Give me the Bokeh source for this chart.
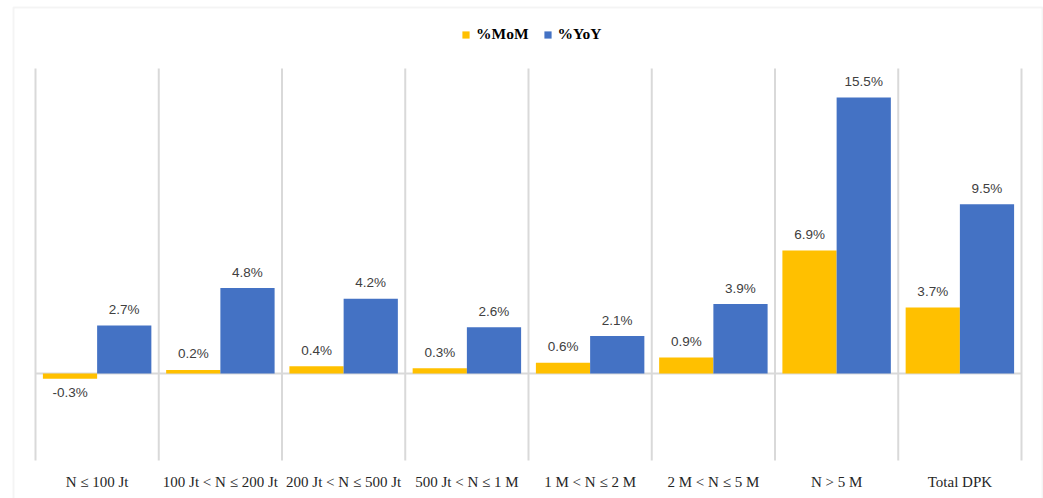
from bokeh.plotting import figure
from bokeh.models import (ColumnDataSource, Range1d, FixedTicker, Legend, LegendItem, BoxAnnotation)
from bokeh.core.properties import value
from bokeh.embed import file_html
from bokeh.resources import INLINE

categories = ["N \u2264 100 Jt", "100 Jt < N \u2264 200 Jt", "200 Jt < N \u2264 500 Jt",
              "500 Jt < N \u2264 1 M", "1 M < N \u2264 2 M", "2 M < N \u2264 5 M",
              "N > 5 M", "Total DPK"]
mom = [-0.3, 0.2, 0.4, 0.3, 0.6, 0.9, 6.9, 3.7]
yoy = [2.7, 4.8, 4.2, 2.6, 2.1, 3.9, 15.5, 9.5]
series_names = ["%MoM", "%YoY"]
series_colors = ["#FFC000", "#4472C4"]

n = len(categories)
xs = [i + 0.5 for i in range(n)]

bw = 0.44
x_mom = [x - bw / 2 for x in xs]
x_yoy = [x + bw / 2 for x in xs]
src = ColumnDataSource(dict(x=xs, xm=x_mom, xy=x_yoy, mom=mom, yoy=yoy, cat=categories))

# plot area geometry (value units)
Y_LO, Y_HI = -7.019, 20.943
GRID_LO, GRID_HI = -4.885, 17.12
X_LO, X_HI = -0.284, n + 0.1785

p = figure(width=1043, height=498, output_backend="svg", toolbar_location=None,
           x_range=Range1d(X_LO, X_HI), y_range=Range1d(Y_LO, Y_HI),
           min_border_left=0, min_border_right=0, min_border_top=0, min_border_bottom=0)
p.outline_line_color = None
p.background_fill_color = "white"
p.border_fill_color = "white"

# outer chart border
p.add_layout(BoxAnnotation(left=13, right=1042, top=7, bottom=540,
                           left_units="canvas", right_units="canvas",
                           top_units="canvas", bottom_units="canvas",
                           fill_color=None, fill_alpha=0, line_color="#D9D9D9", line_width=2,
                           level="underlay"))

# grid: vertical separators between categories, zero line
p.grid.visible = False
bounds = list(range(n + 1))
p.segment(x0=bounds, x1=bounds, y0=[GRID_LO] * len(bounds), y1=[GRID_HI] * len(bounds),
          line_color="#D9D9D9", line_width=2)
p.segment(x0=[0], x1=[n], y0=[0], y1=[0], line_color="#D9D9D9", line_width=2)

r1 = p.vbar(x="xm", top="mom", width=bw, source=src,
            fill_color=series_colors[0], line_color=None)
r2 = p.vbar(x="xy", top="yoy", width=bw, source=src,
            fill_color=series_colors[1], line_color=None)

# data labels
def add_labels(xpos, vals):
    pos = [i for i, v in enumerate(vals) if v >= 0]
    neg = [i for i, v in enumerate(vals) if v < 0]
    for idx, yo in ((pos, -16), (neg, 14)):
        if not idx:
            continue
        s = ColumnDataSource(dict(x=[xpos[i] for i in idx], y=[vals[i] for i in idx],
                                  t=["{:.1f}%".format(vals[i]) for i in idx]))
        p.text(x="x", y="y", text="t", source=s, y_offset=yo, text_align="center",
               text_baseline="middle", text_font=value("Liberation Sans"),
               text_font_size="13.5px", text_color="#404040")

add_labels(x_mom, mom)
add_labels(x_yoy, yoy)

# axes
p.yaxis.visible = False
p.xaxis.fixed_location = GRID_LO
p.xaxis.ticker = FixedTicker(ticks=xs)
p.xaxis.major_label_overrides = {x: c for x, c in zip(xs, categories)}
p.xaxis.axis_line_color = None
p.xaxis.major_tick_line_color = None
p.xaxis.minor_tick_line_color = None
p.xaxis.major_label_standoff = 8
p.xaxis.major_label_text_font = "Liberation Serif"
p.xaxis.major_label_text_font_size = "15px"
p.xaxis.major_label_text_color = "#262626"

legend = Legend(items=[LegendItem(label=series_names[0], renderers=[r1]),
                       LegendItem(label=series_names[1], renderers=[r2])],
                orientation="horizontal", location=(461, 455),
                glyph_width=9, glyph_height=9, label_standoff=6, spacing=14,
                label_text_font="Liberation Serif", label_text_font_style="bold",
                label_text_font_size="15.5px", label_text_color="#000000",
                border_line_color=None, background_fill_alpha=0, padding=0, margin=0)
p.add_layout(legend, "center")

open("out.html", "w").write(file_html(p, INLINE))
